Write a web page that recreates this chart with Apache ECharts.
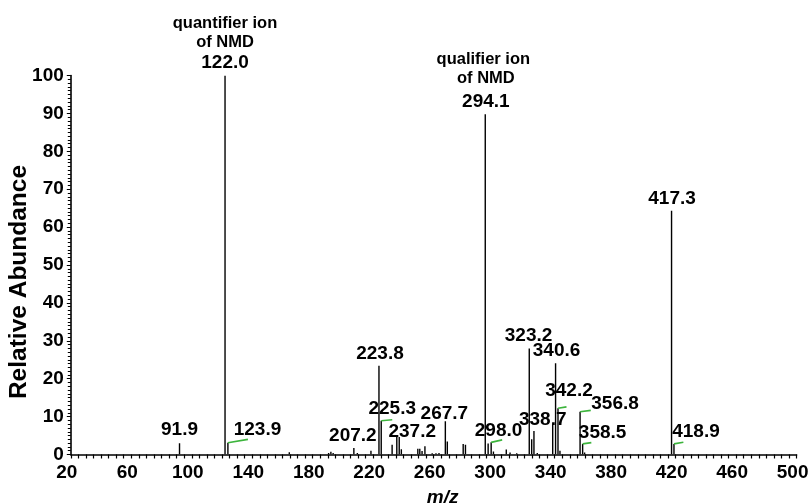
<!DOCTYPE html>
<html>
<head>
<meta charset="utf-8">
<script src="https://cdn.jsdelivr.net/npm/echarts@6/dist/echarts.min.js"></script>
<style>
html, body { margin: 0; padding: 0; background: #fff; }
#spectrum { width: 811px; height: 504px; }
</style>
</head>
<body>
<div id="spectrum"></div>
<script>
// peaks of the spectrum (m/z, relative abundance)
var mz = [91.9, 122.0, 123.9, 164.5, 190.5, 192.0, 193.5, 207.2, 209.5, 218.5,
          223.8, 225.3, 232.5, 235.6, 237.2, 238.6, 249.5, 250.8, 252.3, 254.2,
          259.0, 261.5, 263.5, 267.7, 269.0, 279.5, 281.0, 294.1, 296.0, 298.0,
          299.5, 308.0, 310.5, 314.9, 323.2, 324.8, 326.3, 328.5, 338.7, 340.6,
          342.2, 343.5, 356.8, 358.5, 359.8, 417.3, 418.9];
var abundance = [3.0, 100, 3.1, 0.6, 0.4, 0.7, 0.4, 1.7, 0.4, 1.0,
                 23.4, 8.9, 2.6, 4.6, 4.6, 1.4, 1.5, 1.5, 0.9, 2.2,
                 0.3, 0.3, 0.4, 8.8, 3.4, 2.8, 2.6, 89.8, 2.9, 3.2,
                 0.8, 1.3, 0.5, 0.3, 28.0, 4.0, 6.2, 0.4, 8.0, 24.1,
                 12.2, 1.0, 11.3, 2.8, 0.5, 64.3, 2.8];

// peaks that carry a label
var labelMz = [91.9, 122.0, 123.9, 207.2, 223.8, 225.3, 237.2, 267.7, 294.1,
               298.0, 323.2, 338.7, 340.6, 342.2, 356.8, 358.5, 417.3, 418.9];
var annotations = {
    '122.0': ['quantifier ion', 'of NMD'],
    '294.1': ['qualifier ion', 'of NMD']
};

var xTicks = { min: 20, max: 500, step: 20, labelStep: 40 };
var yTicks = { min: 0, max: 100, step: 10 };

// label placement relative to the peak top (px)
var labelDx = [0, 0, 29.6, -1, 1, 11, 13, -1, 0.6, 7.4, -0.7, -10, 1, 11, 35, 20, 0.5, 22];
var labelDy = [-13, -12.5, -12.8, -12, -12, -12, -5, -7, -12.3, -11.7, -12.7, -4, -12.5, -17.6, -8.4, -11.2, -12.5, -12.2];
// green leader lines (end point relative to peak top), null = none
var leaderDx = [null, null, 20, null, null, 11, null, null, null, 11, null, null, null, 8.5, 10.7, 8.7, null, 9.4];
var leaderDy = [null, null, -3.4, null, null, -1, null, null, null, -2.5, null, null, null, -1.4, -1.3, -1.3, null, -1.7];

var FONT = "'Liberation Sans', Arial, sans-serif";

var chart = echarts.init(document.getElementById('spectrum'));

var peakData = mz.map(function (m, i) { return [m, abundance[i]]; });
var labelData = labelMz.map(function (m, i) {
    return [m, abundance[mz.indexOf(m)], i];
});

option = {
    animation: false,
    backgroundColor: '#fff',
    grid: {
        left: 70.8,
        right: 14.4,
        top: 75.5,
        bottom: 49.5,
        containLabel: false,
        outerBoundsMode: 'none'
    },
    xAxis: {
        type: 'value',
        min: xTicks.min,
        max: xTicks.max,
        interval: xTicks.step,
        name: 'm/z',
        nameLocation: 'middle',
        nameGap: 34,
        nameTextStyle: {
            color: '#000', fontFamily: FONT, fontSize: 19,
            fontWeight: 'bold', fontStyle: 'italic', padding: [0, 0, 0, 18]
        },
        axisLine: { show: true, onZero: false, lineStyle: { color: '#000', width: 1.6 } },
        axisTick: { show: true, inside: false, length: 4, lineStyle: { color: '#000', width: 1.2 } },
        minorTick: { show: true, splitNumber: 4, length: 4, lineStyle: { color: '#000', width: 1.2 } },
        splitLine: { show: false },
        axisLabel: {
            color: '#000', fontFamily: FONT, fontSize: 19, fontWeight: 'bold', margin: 9,
            padding: [0, 8, 0, 0],
            formatter: function (v) {
                return (v - xTicks.min) % xTicks.labelStep === 0 ? String(v) : '';
            }
        }
    },
    yAxis: {
        type: 'value',
        min: yTicks.min,
        max: yTicks.max,
        interval: yTicks.step,
        name: 'Relative Abundance',
        nameLocation: 'middle',
        nameGap: 39,
        nameMoveOverlap: false,
        nameTextStyle: {
            color: '#000', fontFamily: FONT, fontSize: 24.5, fontWeight: 'bold',
            padding: [0, 34, 0, 0]
        },
        axisLine: { show: true, lineStyle: { color: '#000', width: 1.6 } },
        axisTick: { show: true, inside: false, length: 4, lineStyle: { color: '#000', width: 1 } },
        minorTick: { show: true, splitNumber: 10, length: 3, lineStyle: { color: '#000', width: 1 } },
        splitLine: { show: false },
        axisLabel: { color: '#000', fontFamily: FONT, fontSize: 19, fontWeight: 'bold', margin: 7 }
    },
    series: [
        {
            name: 'peaks',
            type: 'custom',
            clip: true,
            data: peakData,
            renderItem: function (params, api) {
                var top = api.coord([api.value(0), api.value(1)]);
                var base = api.coord([api.value(0), 0]);
                return {
                    type: 'line',
                    shape: { x1: top[0], y1: top[1], x2: base[0], y2: base[1] },
                    style: { stroke: '#000', lineWidth: 1.4 }
                };
            }
        },
        {
            name: 'labels',
            type: 'custom',
            clip: false,
            z: 5,
            data: labelData,
            renderItem: function (params, api) {
                var p = api.coord([api.value(0), api.value(1)]);
                var i = api.value(2);
                var txt = labelMz[i].toFixed(1);
                var cx = p[0] + labelDx[i];
                var cy = p[1] + labelDy[i];
                var children = [];
                if (leaderDx[i] !== null) {
                    children.push({
                        type: 'line',
                        shape: { x1: p[0], y1: p[1], x2: p[0] + leaderDx[i], y2: p[1] + leaderDy[i] },
                        style: { stroke: '#3cb43c', lineWidth: 1.6 }
                    });
                }
                children.push({
                    type: 'text',
                    x: cx, y: cy,
                    style: {
                        text: txt, fill: '#000', align: 'center', verticalAlign: 'middle',
                        font: 'bold 19px ' + FONT
                    }
                });
                var extra = annotations[txt];
                if (extra) {
                    var gap = txt === '122.0' ? [40, 20.5] : [42.4, 23];
                    var shift = txt === '122.0' ? 0 : -2.5;
                    extra.forEach(function (line, k) {
                        children.push({
                            type: 'text',
                            x: cx + (k === 0 ? shift : 0), y: cy - gap[k],
                            style: {
                                text: line, fill: '#000', align: 'center', verticalAlign: 'middle',
                                font: 'bold 16.5px ' + FONT
                            }
                        });
                    });
                }
                return { type: 'group', children: children };
            }
        }
    ]
};
chart.setOption(option);
</script>
</body>
</html>
